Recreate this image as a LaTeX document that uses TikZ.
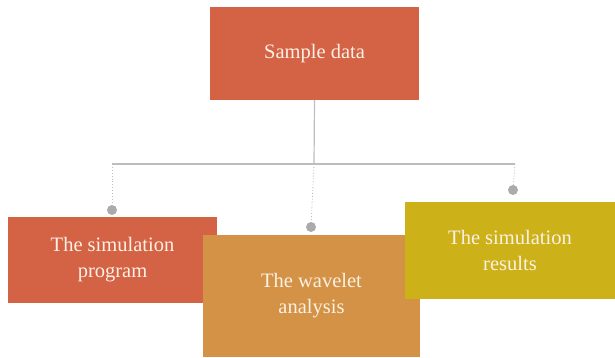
\documentclass[tikz,border=0pt]{standalone}
\usepackage{fontspec}
\setmainfont{Liberation Serif}
\definecolor{redbox}{HTML}{D46244}
\definecolor{orangebox}{HTML}{D39245}
\definecolor{yellowbox}{HTML}{CDB118}
\definecolor{linegray}{HTML}{BDBDBD}
\definecolor{dotgray}{HTML}{ABABAB}
\definecolor{txt}{HTML}{FCF1E6}
\begin{document}
\begin{tikzpicture}[x=1pt,y=-1pt,
  box/.style={rectangle, inner sep=0pt, text=txt, align=center, font=\fontsize{20.5}{26}\selectfont},
  conn/.style={draw=linegray, line width=1.2pt},
  dots/.style={draw=linegray, line width=0.9pt, dotted},
  knob/.style={circle, fill=dotgray, inner sep=0pt, minimum size=10pt}]
\useasboundingbox (0,0) rectangle (615,357);
\node[box, fill=redbox, minimum width=209pt, minimum height=93pt] (top) at (314.5,53.5) {Sample data};
\coordinate (j) at (314,164);
\coordinate (l) at (112,164);
\coordinate (r) at (515,164);
\draw[conn] (top.south) -- (j);
\draw[conn] (l) -- (r);
\node[knob] (d1) at (112,210) {};
\node[knob] (d2) at (311,227) {};
\node[knob] (d3) at (513,190) {};
\draw[dots] (l) -- (d1);
\draw[dots] (j) -- (d2);
\draw[dots] (r) -- (d3);
\node[box, fill=redbox, minimum width=209pt, minimum height=86pt] (b1) at (112.5,260) {The simulation\\program};
\node[box, fill=orangebox, minimum width=217pt, minimum height=122pt] (b2) at (311.5,296) {The wavelet\\analysis};
\node[box, fill=yellowbox, minimum width=210pt, minimum height=97pt] (b3) at (510,250.5) {The simulation\\results};
\end{tikzpicture}
\end{document}
